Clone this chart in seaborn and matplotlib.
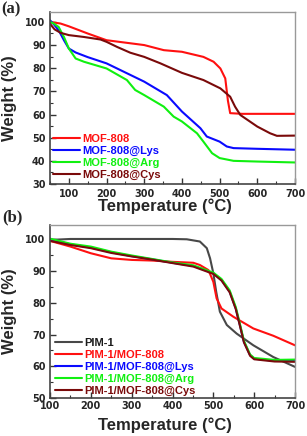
import numpy as np
import pandas as pd
import seaborn as sns
import matplotlib
matplotlib.use("Agg")
import matplotlib.pyplot as plt
from matplotlib.ticker import MultipleLocator

# ---------------- Data: panel (a) ----------------
mof808_T = [50, 78, 100, 150, 200, 300, 352, 400, 457, 484, 502, 515, 522, 528, 560, 700]
mof808_W = [100, 99.3, 98.1, 95.0, 92.1, 90.0, 87.8, 87.1, 84.9, 82.8, 79.9, 75.6, 66.0, 60.6, 60.3, 60.3]

lys_T = [50, 60, 73, 87, 100, 118, 150, 200, 300, 360, 400, 449, 466, 500, 519, 537, 600, 700]
lys_W = [100.7, 99.0, 96.4, 92.1, 88.5, 86.8, 84.8, 82.1, 74.2, 68.4, 61.3, 54.1, 50.5, 48.3, 46.2, 45.5, 45.2, 44.8]

arg_T = [50, 60, 73, 87, 100, 118, 140, 200, 254, 276, 300, 352, 378, 400, 440, 457, 480, 500, 537, 600, 700]
arg_W = [100, 99.3, 97.8, 93.5, 88.5, 84.2, 82.8, 79.9, 74.9, 70.6, 68.4, 63.4, 59.1, 57.0, 51.9, 48.3, 43.3, 41.2, 40.0, 39.7, 39.3]

cys_T = [50, 62, 78, 100, 140, 184, 200, 228, 263, 300, 343, 400, 457, 502, 528, 541, 555, 600, 634, 652, 700]
cys_W = [99.2, 96.8, 95.3, 94.3, 93.5, 92.4, 91.4, 89.2, 86.7, 84.9, 82.1, 78.0, 74.9, 71.3, 67.7, 63.4, 59.8, 54.8, 51.9, 50.8, 50.9]

# ---------------- Data: panel (b) ----------------
pim_T = [100, 150, 200, 300, 400, 435, 467, 484, 492, 500, 507, 516, 533, 557, 598, 647, 700]
pim_W = [99.8, 100.1, 100.1, 100.1, 100.1, 100.0, 99.3, 97.2, 94.0, 89.3, 83.5, 77.2, 73.0, 70.3, 66.6, 62.9, 59.8]

pm_T = [100, 150, 200, 250, 300, 350, 400, 451, 467, 488, 500, 508, 520, 549, 598, 647, 700]
pm_W = [99.5, 97.7, 95.6, 94.0, 93.5, 93.3, 92.9, 92.6, 91.9, 90.3, 86.6, 81.4, 78.2, 75.6, 71.9, 69.6, 66.6]

plys_T = [100, 150, 200, 250, 300, 350, 400, 451, 500, 520, 540, 555, 565, 575, 590, 600, 650, 700]
plys_W = [100.0, 98.4, 97.4, 95.9, 94.7, 93.7, 92.6, 91.6, 89.3, 87.2, 83.5, 78.2, 73.0, 67.7, 63.5, 62.4, 61.7, 61.7]

parg_T = [100, 150, 200, 250, 300, 350, 400, 451, 500, 520, 540, 555, 565, 575, 590, 600, 650, 700]
parg_W = [100.2, 98.6, 97.7, 96.1, 94.9, 93.8, 92.7, 91.8, 89.5, 87.5, 83.9, 78.6, 73.4, 68.0, 63.7, 62.6, 62.0, 62.1]

pcys_T = [100, 150, 200, 250, 300, 350, 400, 451, 500, 520, 540, 555, 565, 575, 590, 600, 650, 700]
pcys_W = [99.5, 98.2, 97.2, 95.7, 94.6, 93.6, 92.5, 91.4, 89.1, 87.0, 83.3, 78.0, 72.8, 67.5, 63.3, 62.2, 61.5, 61.4]

labels_a = ["MOF-808", "MOF-808@Lys", "MOF-808@Arg", "MOF-808@Cys"]
labels_b = ["PIM-1", "PIM-1/MOF-808", "PIM-1/MOF-808@Lys", "PIM-1/MOF-808@Arg", "PIM-1/MOF-808@Cys"]

RED, BLUE, GREEN, DRED, GRAY = "#ff1010", "#0a0aff", "#10f010", "#7a0a0a", "#484848"

sns.set_theme(style="ticks")
plt.rcParams["font.family"] = ["Liberation Sans", "DejaVu Sans"]
plt.rcParams["font.weight"] = "bold"

fig = plt.figure(figsize=(3.07, 4.36), dpi=100)
W, H = 307, 436
ax1 = fig.add_axes([50 / W, 1 - 184 / H, 245 / W, 172.5 / H])
ax2 = fig.add_axes([50 / W, 1 - 398 / H, 245 / W, 173 / H])

lw = 1.5
for T, Wt, c, lab in zip([mof808_T, lys_T, arg_T, cys_T], [mof808_W, lys_W, arg_W, cys_W],
                         [RED, BLUE, GREEN, DRED], labels_a):
    sns.lineplot(x=T, y=Wt, color=c, label=lab, ax=ax1, linewidth=lw, sort=False)

for T, Wt, c, lab in zip([pim_T, pm_T, plys_T, parg_T, pcys_T],
                         [pim_W, pm_W, plys_W, parg_W, pcys_W],
                         [GRAY, RED, BLUE, GREEN, DRED], labels_b):
    sns.lineplot(x=T, y=Wt, color=c, label=lab, ax=ax2, linewidth=lw, sort=False)

ax1.set_xlim(50, 700)
ax1.set_ylim(30, 104.5)
ax2.set_xlim(100, 700)
ax2.set_ylim(50, 104.5)

tick_font = {"family": ["DejaVu Sans"], "weight": "bold", "size": 7}
for ax in (ax1, ax2):
    ax.xaxis.set_major_locator(MultipleLocator(100))
    ax.xaxis.set_minor_locator(MultipleLocator(50))
    ax.yaxis.set_major_locator(MultipleLocator(10))
    ax.yaxis.set_minor_locator(MultipleLocator(5))
    ax.tick_params(axis="both", which="major", direction="in", length=4, width=1,
                   color="#333333")
    ax.tick_params(axis="both", which="minor", direction="in", length=2, width=0.8,
                   color="#333333")
    ax.tick_params(axis="y", pad=3.2)
    for lab in ax.get_xticklabels() + ax.get_yticklabels():
        lab.set_fontproperties(tick_font)
    for s in ("left", "bottom"):
        ax.spines[s].set_color("#444444")
        ax.spines[s].set_linewidth(1.2)
    for s in ("top", "right"):
        ax.spines[s].set_visible(True)
        ax.spines[s].set_color("#999999")
        ax.spines[s].set_linewidth(1.0)
    ax.set_ylabel("Weight (%)", fontsize=12, fontweight="bold")
    ax.yaxis.set_label_coords(-33 / 245, 0.5)
    ax.set_xlabel("Temperature (°C)", fontsize=12, fontweight="bold")
    ax.xaxis.label.set_position((0.47, 0))

ax1.tick_params(axis="x", pad=3.5)
ax2.tick_params(axis="x", pad=2.5)
ax1.xaxis.labelpad = 0
ax2.xaxis.labelpad = 4.5

text_colors_a = [RED, BLUE, GREEN, DRED]
text_colors_b = ["#1a1a1a", RED, BLUE, GREEN, DRED]
for ax, anchor, tcols in ((ax1, (3 / 245, 4 / 172.5), text_colors_a),
                          (ax2, (5 / 245, 2 / 173), text_colors_b)):
    leg = ax.legend(loc="lower left", frameon=False,
                    prop={"family": ["Liberation Sans"], "weight": "bold", "size": 8},
                    handlelength=2.4, handletextpad=0.2, labelspacing=0.18,
                    borderaxespad=0, borderpad=0, bbox_to_anchor=anchor)
    for t, c in zip(leg.get_texts(), tcols):
        t.set_color(c)

fig.text(1 / W, 1 - 13.5 / H, "(a)", fontsize=12, fontweight="bold",
         family=["Liberation Serif", "DejaVu Serif"])
fig.text(2 / W, 1 - 221.5 / H, "(b)", fontsize=12, fontweight="bold",
         family=["Liberation Serif", "DejaVu Serif"])

fig.savefig("out.png", dpi=100)
